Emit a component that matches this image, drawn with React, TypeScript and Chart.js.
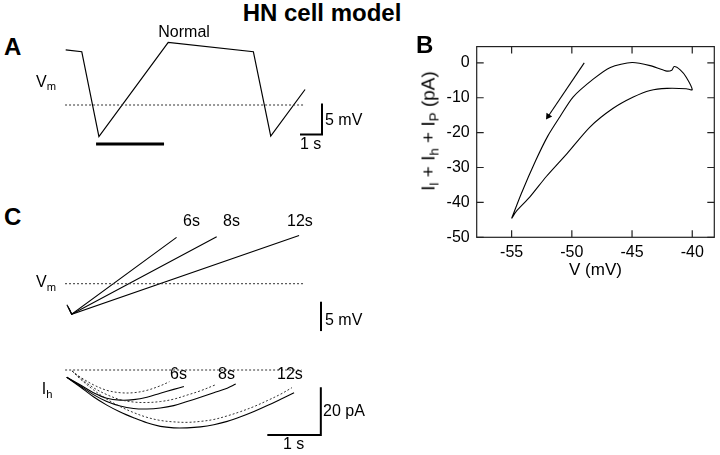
import React, { useEffect, useRef } from 'react';
import { Chart, registerables } from 'chart.js';
Chart.register(...registerables);

const FONT = "'Liberation Sans', Arial, Helvetica, sans-serif";

// ---------- Panel A data (time in s, Vm in mV) ----------
const aTime = [0, 0.73, 1.51, 4.66, 8.53, 9.32, 10.88];
const aVm = [-41.1, -41.4, -55.1, -39.9, -41.4, -55.0, -47.5];
const aRefLevel = -50;
const aRefSpan = [-0.03, 10.88];
const aStimSpan = [1.38, 4.47];
const aStimLevel = -56.3;
const aBarTime = [10.65, 11.65];
const aBarVm = [-54.76, -49.76];

// ---------- Panel B data (V in mV, current in pA) ----------
const bV = [-55.0, -54.2, -53.0, -52.0, -51.0, -49.9, -48.2, -46.8, -45.0, -43.5, -42.2, -41.7, -41.5, -41.0, -40.5, -40.0, -40.5, -42.1, -43.5, -44.9, -46.6, -48.5, -50.4, -52.1, -53.5, -54.6, -55.0];
const bI = [-44.6, -37.5, -28.0, -21.0, -15.5, -9.8, -4.6, -1.3, 0.1, -0.8, -2.3, -2.1, -1.05, -2.0, -4.1, -7.7, -7.4, -7.3, -7.9, -9.8, -13.1, -18.4, -26.0, -32.5, -38.5, -42.5, -44.6];
const bArrowV = [-48.97, -51.96];
const bArrowI = [0, -15.3];
const bXTicks = [-55, -50, -45, -40];
const bYTicks = [-50, -40, -30, -20, -10, 0];
const bXRange = [-57.9, -38.17];
const bYRange = [-50, 4.66];

// ---------- Panel C, Vm ramps (time in s, Vm in mV) ----------
const cLabels = ['6s', '8s', '12s'];
const cVmTime = [[-0.09, 0, 1.96], [-0.07, 0, 2.71], [-0.05, 0, 4.25]];
const cVm = [[-53.6, -55.2, -42.1], [-53.9, -55.2, -42.0], [-54.2, -55.2, -41.8]];
const cRefLevel = -50;
const cRefSpan = [-0.125, 4.34];
const cBarTime = 4.66;
const cBarVm = [-58.07, -53.07];

// ---------- Panel C, Ih (time in s, current in pA) ----------
const ihSolid6T = [0, 0.25, 0.5, 0.75, 1.0, 1.25, 1.5, 1.75, 2.0, 2.19];
const ihSolid6 = [-3.0, -6.2, -9.5, -11.8, -12.6, -12.4, -11.4, -9.7, -8.1, -6.9];
const ihDot6T = [0.1, 0.25, 0.5, 0.75, 1.0, 1.25, 1.5, 1.75, 1.92];
const ihDot6 = [-0.4, -2.9, -6.2, -8.5, -9.5, -9.5, -8.5, -6.6, -4.9];
const ihSolid8T = [0, 0.25, 0.5, 0.75, 1.0, 1.25, 1.5, 1.75, 2.0, 2.25, 2.5, 2.75, 3.0, 3.16];
const ihSolid8 = [-3.0, -6.6, -10.3, -13.2, -15.1, -16.1, -16.3, -15.9, -14.9, -13.2, -11.4, -9.5, -7.6, -5.9];
const ihDot8T = [0.1, 0.25, 0.5, 0.75, 1.0, 1.25, 1.5, 1.75, 2.0, 2.25, 2.5, 2.78];
const ihDot8 = [-0.4, -3.3, -7.4, -10.3, -12.4, -13.4, -13.6, -13.2, -12.2, -10.5, -8.7, -6.2];
const ihSolid12T = [0, 0.25, 0.5, 0.75, 1.0, 1.25, 1.5, 1.75, 2.0, 2.25, 2.5, 2.75, 3.0, 3.25, 3.5, 3.75, 4.0, 4.25];
const ihSolid12 = [-3.0, -7.0, -11.2, -14.7, -17.6, -20.0, -22.1, -23.6, -24.2, -24.2, -23.8, -22.9, -21.5, -19.6, -17.4, -14.9, -12.2, -9.5];
const ihDot12T = [0.1, 0.25, 0.5, 0.75, 1.0, 1.25, 1.5, 1.75, 2.0, 2.25, 2.5, 2.75, 3.0, 3.25, 3.5, 3.75, 4.0, 4.21];
const ihDot12 = [-0.4, -3.7, -8.3, -12.2, -15.3, -17.8, -19.8, -21.1, -21.7, -21.9, -21.5, -20.7, -19.2, -17.4, -15.3, -12.8, -10.1, -7.4];
const ihRefSpan = [-0.03, 4.39];
const ihBarTime = [3.75, 4.75];
const ihBarI = [-27.2, -7.2];

// ---------- layout frames (canvas placement and unit scale) ----------
type Frame = { left: number; top: number; width: number; height: number; x0: number; t0: number; xppu: number; y0: number; v0: number; yppu: number };
const aFrame: Frame = { left: 40, top: 28, width: 305, height: 135, x0: 65.7, t0: 0, xppu: 22, y0: 105, v0: -50, yppu: 6.2 };
const cVmFrame: Frame = { left: 40, top: 200, width: 305, height: 145, x0: 71.7, t0: 0, xppu: 53.5, y0: 283.7, v0: -50, yppu: 5.87 };
const cIhFrame: Frame = { left: 40, top: 355, width: 305, height: 100, x0: 66.7, t0: 0, xppu: 53.5, y0: 370, v0: 0, yppu: 2.39 };
const bBox = { left: 400, top: 30, width: 320, height: 270 };
const bArea = { left: 76.7, right: 314.3, top: 16, bottom: 207.3 };

function ranges(f: Frame) {
  const xmin = f.t0 - (f.x0 - f.left) / f.xppu;
  const xmax = xmin + f.width / f.xppu;
  const ymax = f.v0 + (f.y0 - f.top) / f.yppu;
  const ymin = ymax - f.height / f.yppu;
  return { xmin, xmax, ymin, ymax };
}

const pts = (xs: number[], ys: number[]) => xs.map((x, i) => ({ x, y: ys[i] }));
const hline = (span: number[], level: number) => span.map((x) => ({ x, y: level }));

function line(data: any[], opts: any = {}) {
  return { data, borderColor: '#000', borderWidth: 1.1, pointRadius: 0, showLine: true, fill: false, tension: 0, ...opts };
}
const DOT = { borderDash: [2, 2], borderColor: '#333', borderWidth: 1 };

function traceConfig(f: Frame, datasets: any[]): any {
  const r = ranges(f);
  return {
    type: 'scatter',
    data: { datasets },
    options: {
      responsive: false,
      animation: false,
      events: [],
      layout: { padding: 0 },
      scales: {
        x: { type: 'linear', display: false, min: r.xmin, max: r.xmax },
        y: { type: 'linear', display: false, min: r.ymin, max: r.ymax },
      },
      plugins: { legend: { display: false }, tooltip: { enabled: false } },
    },
  };
}

function makeA() {
  return traceConfig(aFrame, [
    line(hline(aRefSpan, aRefLevel), DOT),
    line(pts(aTime, aVm), { borderWidth: 1.2 }),
    line(hline(aStimSpan, aStimLevel), { borderWidth: 3 }),
    line([{ x: aBarTime[0], y: aBarVm[0] }, { x: aBarTime[1], y: aBarVm[0] }, { x: aBarTime[1], y: aBarVm[1] }], { borderWidth: 2 }),
  ]);
}

function makeCVm() {
  return traceConfig(cVmFrame, [
    line(hline(cRefSpan, cRefLevel), DOT),
    ...cVmTime.map((t, i) => line(pts(t, cVm[i]), { borderWidth: 1.1 })),
    line([{ x: cBarTime, y: cBarVm[0] }, { x: cBarTime, y: cBarVm[1] }], { borderWidth: 2 }),
  ]);
}

function makeCIh() {
  const smooth = { tension: 0.35 };
  return traceConfig(cIhFrame, [
    line(hline(ihRefSpan, 0), DOT),
    line(pts(ihDot6T, ihDot6), { ...DOT, ...smooth }),
    line(pts(ihDot8T, ihDot8), { ...DOT, ...smooth }),
    line(pts(ihDot12T, ihDot12), { ...DOT, ...smooth }),
    line(pts(ihSolid6T, ihSolid6), smooth),
    line(pts(ihSolid8T, ihSolid8), smooth),
    line(pts(ihSolid12T, ihSolid12), smooth),
    line([{ x: ihBarTime[0], y: ihBarI[0] }, { x: ihBarTime[1], y: ihBarI[0] }, { x: ihBarTime[1], y: ihBarI[1] }], { borderWidth: 2 }),
  ]);
}

const boxTicks = {
  id: 'boxTicks',
  afterDatasetsDraw(chart: any) {
    const { ctx, chartArea: a, scales } = chart;
    const x = scales.x;
    const y = scales.y;
    ctx.save();
    ctx.strokeStyle = '#222';
    ctx.lineWidth = 1.2;
    ctx.strokeRect(a.left, a.top, a.right - a.left, a.bottom - a.top);
    ctx.beginPath();
    const L = 7;
    for (const v of bXTicks) {
      const px = x.getPixelForValue(v);
      ctx.moveTo(px, a.bottom); ctx.lineTo(px, a.bottom - L);
      ctx.moveTo(px, a.top); ctx.lineTo(px, a.top + L);
    }
    for (const v of bYTicks) {
      const py = y.getPixelForValue(v);
      ctx.moveTo(a.left, py); ctx.lineTo(a.left + L, py);
      ctx.moveTo(a.right, py); ctx.lineTo(a.right - L, py);
    }
    ctx.stroke();
    ctx.restore();
  },
};

function makeB(): any {
  const tickFont = { size: 16, family: FONT };
  return {
    type: 'scatter',
    data: {
      datasets: [
        line(pts(bV, bI), { tension: 0.25, borderWidth: 1.1 }),
        line(pts(bArrowV, bArrowI), {
          borderWidth: 1.1,
          pointRadius: [0, 4],
          pointStyle: 'triangle',
          pointRotation: 214,
          pointBackgroundColor: '#000',
          pointBorderColor: '#000',
          pointBorderWidth: 0,
        }),
      ],
    },
    options: {
      responsive: false,
      animation: false,
      events: [],
      layout: { padding: { left: 0, top: bArea.top, right: bBox.width - bArea.right, bottom: 0 } },
      scales: {
        x: {
          type: 'linear',
          min: bXRange[0],
          max: bXRange[1],
          afterBuildTicks: (s: any) => { s.ticks = bXTicks.map((v) => ({ value: v })); },
          afterFit: (s: any) => { s.height = bBox.height - bArea.bottom; },
          grid: { display: false, drawTicks: false },
          border: { display: false },
          ticks: { color: '#000', font: tickFont, padding: 6 },
          title: { display: true, text: 'V (mV)', color: '#000', font: { size: 17, family: FONT }, padding: { top: 0, bottom: 19 } },
        },
        y: {
          type: 'linear',
          min: bYRange[0],
          max: bYRange[1],
          afterBuildTicks: (s: any) => { s.ticks = bYTicks.map((v) => ({ value: v })); },
          afterFit: (s: any) => { s.width = bArea.left; },
          grid: { display: false, drawTicks: false },
          border: { display: false },
          ticks: { color: '#000', font: tickFont, padding: 7 },
        },
      },
      plugins: { legend: { display: false }, tooltip: { enabled: false } },
    },
    plugins: [boxTicks],
  };
}

function ChartCanvas({ box, make }: { box: { left: number; top: number; width: number; height: number }; make: () => any }) {
  const ref = useRef<HTMLCanvasElement>(null);
  useEffect(() => {
    const chart = new Chart(ref.current as HTMLCanvasElement, make());
    return () => chart.destroy();
  }, []);
  return (
    <canvas
      ref={ref}
      width={box.width}
      height={box.height}
      style={{ position: 'absolute', left: box.left, top: box.top, width: box.width, height: box.height }}
    />
  );
}

function Label({ x, y, size = 16, bold = false, align = 'left', children }: any) {
  const top = y - 0.85 * size;
  const tx = align === 'center' ? 'translateX(-50%)' : align === 'right' ? 'translateX(-100%)' : undefined;
  return (
    <div style={{ position: 'absolute', left: x, top, fontSize: size, lineHeight: `${size}px`, fontWeight: bold ? 700 : 400, whiteSpace: 'nowrap', transform: tx }}>
      {children}
    </div>
  );
}

const Sub = ({ children }: any) => <span style={{ fontSize: '0.7em', position: 'relative', top: '0.3em' }}>{children}</span>;

export default function App() {
  return (
    <div style={{ position: 'fixed', left: 0, top: 0, width: 720, height: 455, background: '#fff', overflow: 'hidden', fontFamily: FONT, color: '#000' }}>
      <ChartCanvas box={aFrame} make={makeA} />
      <ChartCanvas box={bBox} make={makeB} />
      <ChartCanvas box={cVmFrame} make={makeCVm} />
      <ChartCanvas box={cIhFrame} make={makeCIh} />

      <Label x={322} y={21} size={24} bold align="center">HN cell model</Label>
      <Label x={4} y={55.5} size={24} bold>A</Label>
      <Label x={416} y={53} size={24} bold>B</Label>
      <Label x={4} y={225} size={24} bold>C</Label>

      <Label x={158.3} y={38} size={16}>Normal</Label>
      <Label x={36} y={87.5} size={16}>V<Sub>m</Sub></Label>
      <Label x={325} y={126} size={16}>5 mV</Label>
      <Label x={300} y={150} size={16}>1 s</Label>

      <Label x={183} y={227} size={16}>{cLabels[0]}</Label>
      <Label x={223} y={227} size={16}>{cLabels[1]}</Label>
      <Label x={287} y={227} size={16}>{cLabels[2]}</Label>
      <Label x={36} y={288} size={16}>V<Sub>m</Sub></Label>
      <Label x={325} y={326} size={16}>5 mV</Label>

      <Label x={41.7} y={395} size={16}>I<Sub>h</Sub></Label>
      <Label x={170} y={380} size={16}>{cLabels[0]}</Label>
      <Label x={218} y={380} size={16}>{cLabels[1]}</Label>
      <Label x={277} y={380} size={16}>{cLabels[2]}</Label>
      <Label x={323} y={417} size={16}>20 pA</Label>
      <Label x={283} y={450} size={16}>1 s</Label>

      <div style={{ position: 'absolute', left: 429, top: 131, transform: 'translate(-50%, -50%) rotate(-90deg)', fontSize: 19, lineHeight: '19px', whiteSpace: 'nowrap' }}>
        I<Sub>l</Sub> + I<Sub>h</Sub> + I<Sub>P</Sub> (pA)
      </div>
    </div>
  );
}
